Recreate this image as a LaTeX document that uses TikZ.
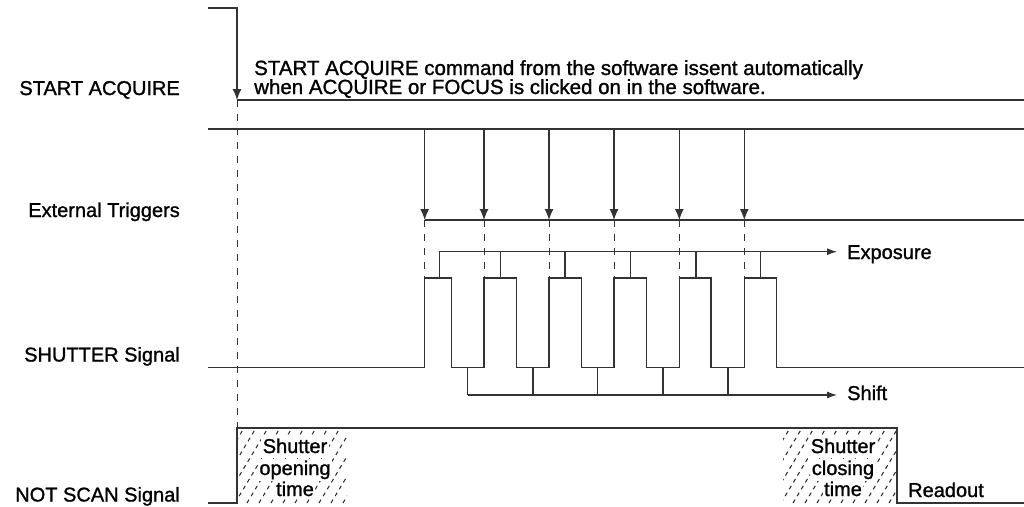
\documentclass[tikz,border=0pt]{standalone}
\usepackage{fontspec}
\setmainfont{Liberation Sans}[FakeBold=1.2]
\usetikzlibrary{arrows.meta}
\begin{document}
\begin{tikzpicture}[x=1pt,y=-1pt,
  sig/.style={line width=1.1pt, draw=black!80, line join=miter},
  guide/.style={line width=1pt, draw=black!80, dash pattern=on 7pt off 7pt},
  trig/.style={sig, -{Latex[length=11pt,width=9pt]}},
  brk/.style={sig, -{Latex[length=10pt,width=7pt]}},
  hatch/.style={line width=1pt, draw=black!85, dash pattern=on 4pt off 4pt},
  lbl/.style={font=\fontsize{20}{17}\selectfont, inner sep=0pt},
  hlbl/.style={font=\fontsize{20}{21}\selectfont, inner sep=1.5pt, fill=white, anchor=base}]
\useasboundingbox (0,0) rectangle (1024,506);

% hatching
\begin{scope}
\clip (237,428) rectangle (347,503);
\foreach \k in {0,...,16} \draw[hatch] (187+\k*12,503) -- ++(60,-100);
\end{scope}
\begin{scope}
\clip (783,428) rectangle (897,503);
\foreach \k in {0,...,16} \draw[hatch] (733+\k*12,503) -- ++(60,-100);
\end{scope}
\node[hlbl] (o1) at (295,453) {Shutter};
\node[hlbl] (o2) at (295,475) {opening};
\node[hlbl] (o3) at (295,496) {time};
\node[hlbl] (c1) at (843,453) {Shutter};
\node[hlbl] (c2) at (843,475) {closing};
\node[hlbl] (c3) at (843,496) {time};

% row labels
\node[lbl, anchor=base east] (lsa) at (180,95) {START ACQUIRE};
\node[lbl, anchor=base east] (let) at (180,217) {External Triggers};
\node[lbl, anchor=base east] (lsh) at (180,361.5) {SHUTTER Signal};
\node[lbl, anchor=base east] (lns) at (180,501.5) {NOT SCAN Signal};

% title text
\node[lbl, anchor=base west, font=\fontsize{20.5}{17}\selectfont] (t1) at (254,75) {START ACQUIRE command from the software issent automatically};
\node[lbl, anchor=base west, font=\fontsize{20.5}{17}\selectfont] (t2) at (254,94) {when ACQUIRE or FOCUS is clicked on in the software.};

% START ACQUIRE
\draw[trig] (208,8) -- (237,8) -- (237,100);
\draw[sig] (237,100) -- (1024,100);
\draw[guide] (237,100) -- (237,428);

% External triggers
\draw[sig] (208,129) -- (1024,129);
\draw[sig] (424.7,220) -- (1024,220);
\foreach \x in {424.7,484,549,614,679.3,744.3} {
  \draw[trig] (\x,129) -- (\x,220);
  \draw[guide] (\x,220) -- (\x,278);
}

% SHUTTER signal
\draw[sig] (208,367.5) -- (424.7,367.5) -- (424.7,278) -- (451.3,278) -- (451.3,367.5)
  -- (484,367.5) -- (484,278) -- (516.7,278) -- (516.7,367.5)
  -- (549,367.5) -- (549,278) -- (581.3,278) -- (581.3,367.5)
  -- (614,367.5) -- (614,278) -- (646.7,278) -- (646.7,367.5)
  -- (679.3,367.5) -- (679.3,278) -- (711,278) -- (711,367.5)
  -- (744.3,367.5) -- (744.3,278) -- (776.3,278) -- (776.3,367.5) -- (1024,367.5);

% Exposure
\foreach \x in {439.3,500.7,565,630.7,696,760.7} \draw[sig] (\x,278) -- (\x,251.7);
\draw[brk] (439.3,251.7) -- (837,251.7);
\node[lbl, anchor=base west] (lexp) at (847,259) {Exposure};

% Shift
\foreach \x in {467.7,533,597.7,663,728} \draw[sig] (\x,367.5) -- (\x,395);
\draw[brk] (467.7,395) -- (837,395);
\node[lbl, anchor=base west] (lshift) at (847,400) {Shift};

% NOT SCAN
\draw[sig] (208,503) -- (237,503) -- (237,428) -- (897,428) -- (897,503) -- (1024,503);
\node[lbl, anchor=base west] (lro) at (908,497) {Readout};
\end{tikzpicture}
\end{document}
